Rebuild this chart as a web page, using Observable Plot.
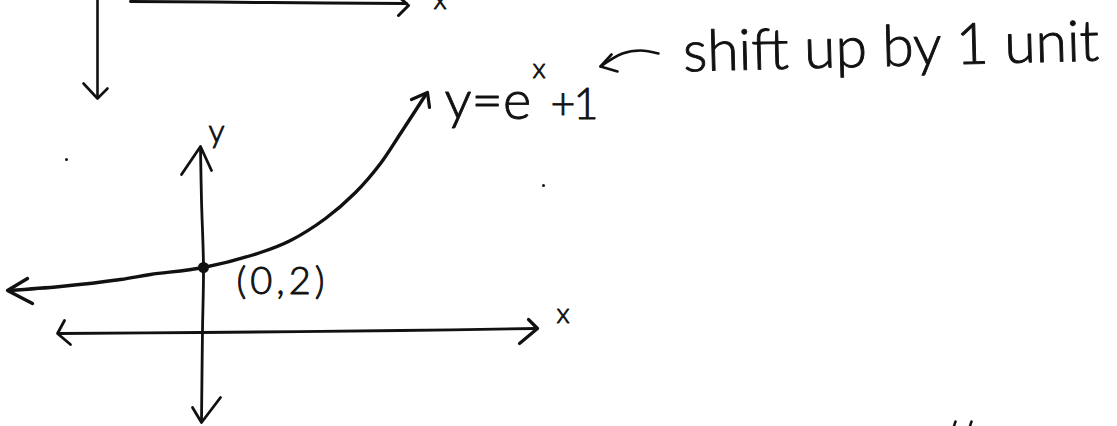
<!DOCTYPE html>
<html>
<head>
<meta charset="utf-8">
<script src="https://cdn.jsdelivr.net/npm/d3@7"></script>
<script src="https://cdn.jsdelivr.net/npm/@observablehq/plot@0.6"></script>
<style>
  html, body { margin: 0; padding: 0; background: #fff; }
  #chart svg { display: block; }
</style>
</head>
<body>
<div id="chart"></div>
<script>
// Sketch of y = e^x + 1, traced as strokes on the sheet grid (x right, y down).

// Leftover axes from the sketch above (only their ends are on this sheet)
const upperXAxis = [[130, 1], [270, 2], [406, 3]];
const upperXArrow = [[397, -5], [408, 5], [398, 15]];
const upperYAxis = [[97, -2], [97, 50], [97, 97]];
const upperYArrow = [[83, 83], [97, 98], [107, 88]];

// Axes of the shifted graph
const yAxis = [[200, 148], [201, 200], [203, 267], [202, 330], [201, 421]];
const yAxisTopArrow = [[181, 174], [200, 146], [211, 170]];
const yAxisBottomArrow = [[192, 407], [201, 422], [220, 397]];
const xAxis = [[58, 333], [200, 332], [400, 330], [536, 328]];
const xAxisLeftArrow = [[64, 320], [57, 333], [70, 344]];
const xAxisRightArrow = [[528, 319], [537, 328], [519, 343]];

// The curve y = e^x + 1
const curve = [
  [8, 290], [60, 286], [120, 279], [150, 274], [203, 267], [260, 252],
  [290, 240], [325, 218], [355, 192], [380, 163], [400, 133], [415, 110], [426, 93]
];
const curveLeftArrow = [[27, 278], [7, 290], [32, 303]];
const curveRightArrow = [[411, 99], [427, 92], [429, 107]];

// Curved pointer from the note to the equation
const notePointer = [[658, 53], [640, 50], [622, 53], [600, 66]];
const notePointerHead = [[611, 54], [600, 66], [617, 71]];

// Marked point
const markedPoint = [[203, 267]];

// Stray pencil dots
const strayDots = [[66, 159], [543, 185]];
const strayTicks = [[[955, 421], [953, 427]], [[971, 421], [969, 427]]];

// Labels: text and the point where its baseline starts
const labels = [
  {text: "y", x: 208, y: 141, size: 32},
  {text: "(0,2)", x: 236, y: 293, size: 38},
  {text: "x", x: 556, y: 322, size: 28},
  {text: "x", x: 433, y: 8, size: 28},
  {text: "y=e", x: 444, y: 118, size: 54},
  {text: "x", x: 532, y: 77, size: 28},
  {text: "+1", x: 550, y: 118, size: 43}
];
const note = {text: "shift up by 1 unit", x: 683, y: 71, size: 57, angle: -1.5};

const strokes = [
  {id: "upperX", pts: upperXAxis, w: 3},
  {id: "upperXArrow", pts: upperXArrow, w: 3},
  {id: "upperY", pts: upperYAxis, w: 2.6},
  {id: "upperYArrow", pts: upperYArrow, w: 2.6},
  {id: "yAxis", pts: yAxis, w: 2.8},
  {id: "yTop", pts: yAxisTopArrow, w: 2.8},
  {id: "yBottom", pts: yAxisBottomArrow, w: 2.8},
  {id: "xAxis", pts: xAxis, w: 2.8},
  {id: "xLeft", pts: xAxisLeftArrow, w: 2.8},
  {id: "xRight", pts: xAxisRightArrow, w: 3.2},
  {id: "curve", pts: curve, w: 3.4},
  {id: "curveLeft", pts: curveLeftArrow, w: 3.4},
  {id: "curveRight", pts: curveRightArrow, w: 3.2},
  {id: "pointer", pts: notePointer, w: 2.6},
  {id: "pointerHead", pts: notePointerHead, w: 2.6},
  {id: "tick1", pts: strayTicks[0], w: 2.5},
  {id: "tick2", pts: strayTicks[1], w: 2.5}
];

const smooth = new Set(["upperX", "upperY", "yAxis", "xAxis", "curve", "pointer"]);
const rows = strokes.flatMap(s => s.pts.map(([x, y]) => ({x, y, id: s.id, w: s.w})));
const ink = "#111";
const font = "Lato, 'Liberation Sans', sans-serif";

// Pen-like lettering: a light face thickened with a fine outline
const lettering = {
  fontWeight: 300, fontFamily: font, fill: ink, stroke: ink, strokeWidth: 0.9,
  textAnchor: "start", lineAnchor: "bottom"
};

const chart = Plot.plot({
  width: 1117,
  height: 426,
  margin: 0,
  style: {background: "#fff", fontFamily: font},
  x: {domain: [0, 1117], range: [0, 1117], axis: null},
  y: {domain: [0, 426], range: [0, 426], axis: null},
  marks: [
    Plot.line(rows.filter(d => smooth.has(d.id)), {
      x: "x", y: "y", z: "id", stroke: ink, strokeWidth: "w",
      curve: "catmull-rom", strokeLinecap: "round", strokeLinejoin: "round"
    }),
    Plot.line(rows.filter(d => !smooth.has(d.id)), {
      x: "x", y: "y", z: "id", stroke: ink, strokeWidth: "w",
      curve: "linear", strokeLinecap: "round", strokeLinejoin: "round"
    }),
    Plot.dot(markedPoint, {x: d => d[0], y: d => d[1], r: 5.5, fill: ink, stroke: "none"}),
    Plot.dot(strayDots, {x: d => d[0], y: d => d[1], r: 1.5, fill: ink, stroke: "none"}),
    Plot.text(labels, {x: "x", y: "y", text: "text", fontSize: d => d.size, ...lettering}),
    Plot.text([note], {x: "x", y: "y", text: "text", fontSize: note.size, rotate: note.angle, ...lettering})
  ]
});

// Handwritten labels are loosely spaced; tighten or loosen a few of them
const spacing = {"(0,2)": 4, "+1": -2};
d3.select(chart).selectAll("text").each(function () {
  const s = spacing[this.textContent];
  if (s !== undefined) this.setAttribute("letter-spacing", s);
});

document.getElementById("chart").append(chart);
</script>
</body>
</html>
